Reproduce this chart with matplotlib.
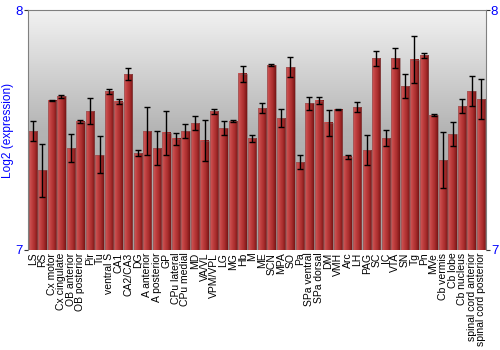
import numpy as np
import matplotlib.pyplot as plt
from matplotlib.colors import LinearSegmentedColormap

plt.rcParams['font.family'] = ['Liberation Sans', 'DejaVu Sans']

regions = ["LS", "RS", "Cx motor", "Cx cingulate", "OB anterior", "OB posterior",
           "Pir", "Tu", "ventral S", "CA1", "CA2/CA3", "DG", "A anterior",
           "A posterior", "GP", "CPu lateral", "CPu medial", "MD", "VA/VL",
           "VPM/VPL", "LG", "MG", "Hb", "M", "ME", "SCN", "MPA", "SO", "Pa",
           "SPa ventral", "SPa dorsal", "DM", "VMH", "Arc", "LH", "PAG", "SC",
           "IC", "VTA", "SN", "Tg", "Pn", "MVe", "Cb vermis", "Cb lobe",
           "Cb nucleus", "spinal cord anterior", "spinal cord posterior"]

values = [7.496, 7.332, 7.622, 7.640, 7.425, 7.535, 7.579, 7.396, 7.662, 7.618,
          7.733, 7.404, 7.496, 7.425, 7.489, 7.463, 7.496, 7.529, 7.455, 7.578,
          7.508, 7.538, 7.735, 7.465, 7.592, 7.771, 7.549, 7.763, 7.367, 7.611,
          7.622, 7.531, 7.585, 7.388, 7.596, 7.417, 7.799, 7.467, 7.799, 7.683,
          7.793, 7.811, 7.563, 7.375, 7.483, 7.600, 7.663, 7.628]

errors = [0.040, 0.110, 0.003, 0.008, 0.060, 0.005, 0.053, 0.077, 0.010, 0.011,
          0.025, 0.014, 0.100, 0.070, 0.092, 0.025, 0.030, 0.030, 0.086, 0.011,
          0.030, 0.003, 0.034, 0.013, 0.020, 0.005, 0.038, 0.040, 0.030, 0.026,
          0.015, 0.054, 0.003, 0.008, 0.020, 0.062, 0.030, 0.032, 0.042, 0.050,
          0.098, 0.009, 0.003, 0.117, 0.049, 0.028, 0.064, 0.084]

fig = plt.figure(figsize=(5, 3.5), dpi=100)
ax = fig.add_axes([0.056, 0.286, 0.916, 0.685])

# grey background fading downwards
bg = LinearSegmentedColormap.from_list("bg", ["#f2f2f2", "#b4b4b4", "#a0a0a0"])
ax.imshow(np.linspace(0, 1, 256).reshape(-1, 1), cmap=bg, aspect="auto",
          extent=(0, 1, 0, 1), transform=ax.transAxes, zorder=0)

# red bars with a left-to-right shading
red = LinearSegmentedColormap.from_list("red", ["#d05a5a", "#bf4040", "#a82c2c", "#781616"])
shade = np.linspace(0, 1, 32).reshape(1, -1)
w = 0.88
x = np.arange(len(regions))
for xi, v in zip(x, values):
    ax.imshow(shade, cmap=red, aspect="auto", extent=(xi - w / 2, xi + w / 2, 7, v),
              zorder=2, interpolation="bilinear")
ax.bar(x, np.array(values) - 7, bottom=7, width=w, color="none",
       edgecolor="#8a5a5a", linewidth=0.4, zorder=3)
ax.errorbar(x, values, yerr=errors, fmt="none", ecolor="black", elinewidth=1,
            capsize=2.5, capthick=1, zorder=4)

ax.set_xlim(-0.5, len(regions) - 0.5)
ax.set_ylim(7, 8)
ax.set_yticks([7, 8])
ax.set_xticks(x)
ax.set_xticklabels(regions, rotation=90, fontsize=7.5)
ax.tick_params(axis="x", length=0, pad=2)
ax.tick_params(axis="y", colors="#333333", labelcolor="blue", labelsize=9.5,
               right=True, labelright=True, length=3, pad=0.5)
ax.set_ylabel("Log2 (expression)", color="blue", fontsize=8.6, labelpad=1)

for side in ["top", "left", "right"]:
    ax.spines[side].set_color("#808080")
ax.spines["bottom"].set_visible(False)

fig.savefig("out.png", dpi=100)
